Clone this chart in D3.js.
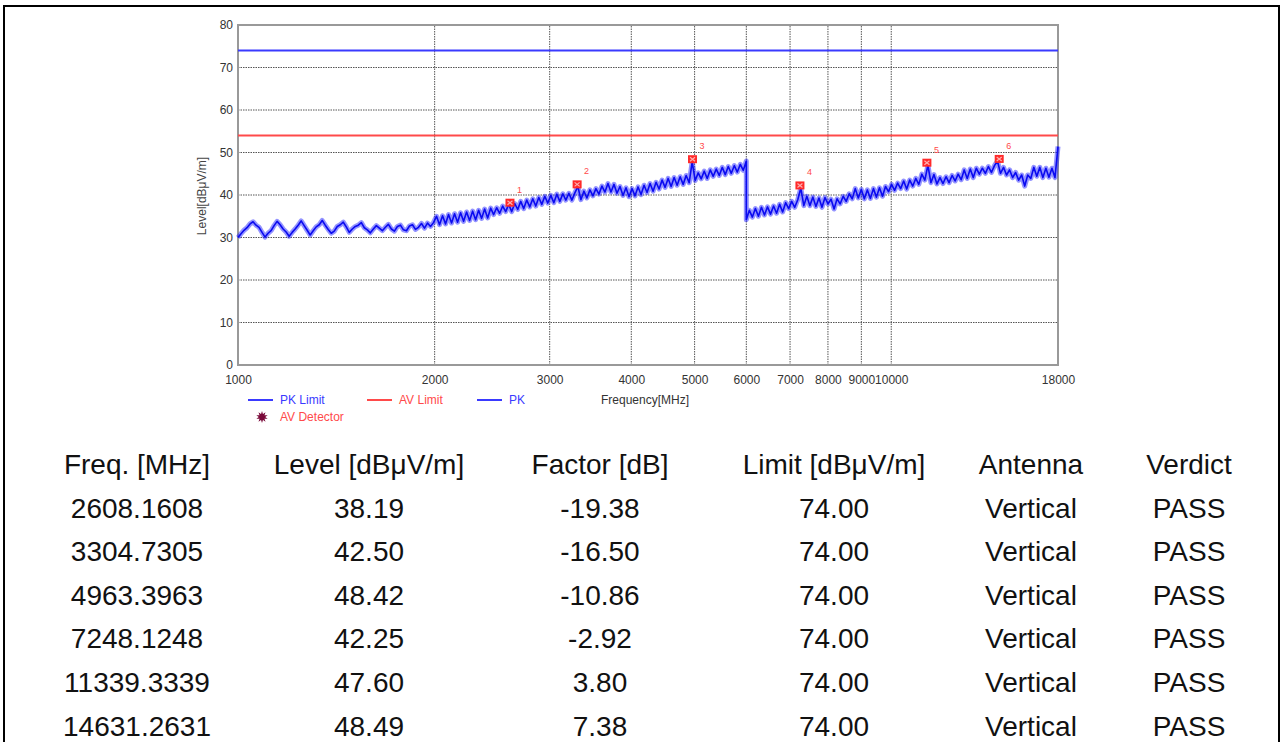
<!DOCTYPE html>
<html><head><meta charset="utf-8">
<script src="https://cdn.jsdelivr.net/npm/d3@7"></script>
<style>
body{margin:0;background:#fff;}
svg{display:block;font-family:"Liberation Sans",Arial,sans-serif;}
</style>
</head><body>
<svg id="c" width="1282" height="742"></svg>
<script>
// ---------------- data ----------------
const yTicks = [0, 10, 20, 30, 40, 50, 60, 70, 80];
const xTickLabels = [1000, 2000, 3000, 4000, 5000, 6000, 7000, 8000, 9000, 10000, 18000];
const xGridLines = [2000, 3000, 4000, 5000, 6000, 7000, 8000, 9000, 10000];
const pkLimit = 74;
const avLimit = 54;
// PK trace, sweep 1 (1000 - 6000 MHz, log-spaced sweep points)
const sweepA = [1000, 6000];
const levelsA = [
 30.0,30.9,31.7,32.3,33.2,33.7,32.9,32.4,31.2,30.1,
 31.0,31.6,32.8,33.8,33.0,32.0,31.3,30.3,31.2,32.0,
 32.9,33.9,32.8,31.7,30.6,31.6,32.5,33.0,34.0,32.9,
 31.9,31.0,31.5,32.6,33.0,33.6,32.5,31.2,32.0,32.6,
 32.9,33.5,32.3,31.8,31.1,32.0,32.8,32.2,31.6,32.4,
 33.1,32.0,31.5,32.6,32.9,31.8,31.6,32.7,33.0,31.9,
 32.4,33.3,32.2,33.4,32.6,33.5,35.0,33.0,35.1,33.2,
 35.4,33.4,35.6,33.6,35.8,33.8,36.0,34.0,36.2,34.2,
 36.4,34.5,36.7,34.6,36.9,35.4,37.0,35.7,37.4,36.1,
 37.8,36.1,38.0,36.6,38.5,36.8,38.8,37.2,39.1,37.4,
 39.4,37.8,39.7,38.1,39.9,38.2,40.2,38.5,40.3,38.8,
 40.4,38.8,40.5,42.0,38.9,40.9,39.3,41.2,39.8,41.5,
 40.2,42.1,40.7,42.7,40.7,42.5,40.4,42.0,39.9,41.7,
 39.6,41.5,39.8,41.9,40.1,42.3,40.6,42.7,40.9,43.0,
 41.4,43.5,41.8,43.9,42.0,44.1,42.3,44.3,42.5,44.6,
 42.9,47.8,43.4,45.2,43.8,45.6,43.9,45.9,44.4,46.1,
 44.6,46.5,44.8,46.7,45.1,46.9,45.4,47.2,45.8,48.0
];
// PK trace, sweep 2 (6000 - 18000 MHz)
const sweepB = [6000, 18000];
const levelsB = [
 34.2,36.4,34.8,36.8,35.0,37.1,35.3,37.2,35.5,37.4,
 35.7,37.8,36.0,38.2,36.8,38.5,37.1,38.9,41.6,37.5,
 39.7,37.5,39.5,37.3,39.3,37.1,39.4,37.9,39.0,36.7,
 39.1,37.9,39.7,38.5,40.3,39.1,41.5,39.3,41.3,39.1,
 41.2,39.2,41.5,39.5,41.7,39.7,42.0,40.8,42.5,41.1,
 42.8,41.5,43.3,41.4,43.5,42.1,43.9,42.5,44.9,43.5,
 47.0,42.9,44.8,42.6,44.1,42.7,44.3,42.9,44.6,43.3,
 44.9,43.6,45.9,43.9,46.1,44.1,46.3,44.9,46.3,45.1,
 46.7,45.3,46.9,48.0,45.1,46.5,44.7,45.9,44.1,45.3,
 43.5,44.7,42.1,44.7,43.9,46.5,44.4,46.5,44.1,46.3,
 44.2,46.3,44.1,51.4
];
// final measurement markers / table
const markerFreq   = [2608.1608, 3304.7305, 4963.3963, 7248.1248, 11339.3339, 14631.2631];
const markerLevel  = [38.19, 42.50, 48.42, 42.25, 47.60, 48.49];
const markerFactor = [-19.38, -16.50, -10.86, -2.92, 3.80, 7.38];
const markerLimit  = [74.00, 74.00, 74.00, 74.00, 74.00, 74.00];
const markerAntenna = ["Vertical","Vertical","Vertical","Vertical","Vertical","Vertical"];
const markerVerdict = ["PASS","PASS","PASS","PASS","PASS","PASS"];
const tableHeaders = ["Freq. [MHz]", "Level [dBμV/m]", "Factor [dB]", "Limit [dBμV/m]", "Antenna", "Verdict"];
const legendItems = ["PK Limit", "AV Limit", "PK"];

// ---------------- drawing ----------------
const svg = d3.select("#c");
// outer frame
svg.append("rect").attr("x", 4).attr("y", 6).attr("width", 1275).attr("height", 800)
  .attr("fill", "none").attr("stroke", "#000").attr("stroke-width", 2);

const x = d3.scaleLog().domain([1000, 18000]).range([238, 1058]);
const y = d3.scaleLinear().domain([0, 80]).range([365, 25]);

const g = svg.append("g");
// grid
g.selectAll(".hg").data(yTicks.filter(d => d > 0 && d < 80)).join("line")
  .attr("x1", x(1000)).attr("x2", x(18000)).attr("y1", d => y(d)).attr("y2", d => y(d))
  .attr("stroke", "#555").attr("stroke-width", 1).attr("stroke-dasharray", "1.5,1");
g.selectAll(".vg").data(xGridLines).join("line")
  .attr("x1", d => x(d)).attr("x2", d => x(d)).attr("y1", y(0)).attr("y2", y(80))
  .attr("stroke", "#555").attr("stroke-width", 1).attr("stroke-dasharray", "1.5,1");

// axes via d3
const yAxis = d3.axisLeft(y).tickValues(yTicks).tickSize(0).tickPadding(5);
const yg = g.append("g").attr("transform", `translate(${x(1000)},0)`).call(yAxis);
const xAxis = d3.axisBottom(x).tickValues(xTickLabels).tickFormat(d3.format("d")).tickSize(0).tickPadding(10);
const xg = g.append("g").attr("transform", `translate(0,${y(0)})`).call(xAxis);
[yg, xg].forEach(a => {
  a.select(".domain").remove();
  a.selectAll("text").attr("font-size", 12).attr("fill", "#333")
    .attr("font-family", "'Liberation Sans',Arial,sans-serif");
});

// plot frame
g.append("rect").attr("x", x(1000)).attr("y", y(80))
  .attr("width", x(18000) - x(1000)).attr("height", y(0) - y(80))
  .attr("fill", "none").attr("stroke", "#999").attr("stroke-width", 2);

// limits
g.append("line").attr("x1", x(1000)).attr("x2", x(18000)).attr("y1", y(pkLimit)).attr("y2", y(pkLimit))
  .attr("stroke", "#3a3aff").attr("stroke-width", 2);
g.append("line").attr("x1", x(1000)).attr("x2", x(18000)).attr("y1", y(avLimit)).attr("y2", y(avLimit))
  .attr("stroke", "#ff4a4a").attr("stroke-width", 2);

// trace
function sweepPoints(range, vals) {
  const n = vals.length;
  const idx = d3.scaleLinear().domain([0, n - 1]).range([Math.log10(range[0]), Math.log10(range[1])]);
  return vals.map((v, i) => [Math.pow(10, idx(i)), v]);
}
const trace = sweepPoints(sweepA, levelsA).concat(sweepPoints(sweepB, levelsB));
const line = d3.line().x(d => x(d[0])).y(d => y(d[1]));
g.append("path").datum(trace).attr("d", line).attr("fill", "none")
  .attr("stroke", "#2a2aff").attr("stroke-width", 5).attr("stroke-opacity", 0.5).attr("stroke-linejoin", "round");
g.append("path").datum(trace).attr("d", line).attr("fill", "none")
  .attr("stroke", "#0a0af0").attr("stroke-width", 1.6).attr("stroke-linejoin", "round");

// markers
const mk = g.selectAll(".mk").data(markerFreq.map((f, i) => ({f, l: markerLevel[i], n: i + 1}))).join("g")
  .attr("transform", d => `translate(${x(d.f)},${y(d.l)})`);
mk.append("rect").attr("x", -4.5).attr("y", -4).attr("width", 9).attr("height", 8).attr("fill", "#ff2a2a");
mk.append("path").attr("d", "M-2.5,-2L2.5,2M-2.5,2L2.5,-2").attr("stroke", "#ffb0b0").attr("stroke-width", 1.2);
mk.append("text").attr("x", 7).attr("y", -10).attr("font-size", 9).attr("fill", "#ff4a4a").text(d => d.n);

// axis titles
svg.append("text").attr("transform", `translate(206,${(y(0) + y(80)) / 2 + 1}) rotate(-90)`)
  .attr("text-anchor", "middle").attr("font-size", 12).attr("fill", "#444").text("Level[dBμV/m]");
svg.append("text").attr("x", 601).attr("y", 404).attr("font-size", 12).attr("fill", "#333").text("Frequency[MHz]");

// legend
const legCols = ["#3a3aff", "#ff4a4a", "#3a3aff"];
const legX = [248, 367, 477];
legendItems.forEach((t, i) => {
  svg.append("line").attr("x1", legX[i]).attr("x2", legX[i] + 25).attr("y1", 400).attr("y2", 400)
    .attr("stroke", legCols[i]).attr("stroke-width", 2);
  svg.append("text").attr("x", legX[i] + 32).attr("y", 404).attr("font-size", 12).attr("fill", legCols[i]).text(t);
});
svg.append("path").attr("transform", "translate(262,417)")
  .attr("d", d3.symbol(d3.symbolStar, 40)()).attr("fill", "#7a0a3a");
svg.append("path").attr("transform", "translate(262,417) rotate(36)")
  .attr("d", d3.symbol(d3.symbolStar, 40)()).attr("fill", "#7a0a3a");
svg.append("text").attr("x", 280).attr("y", 421).attr("font-size", 12).attr("fill", "#ff4a4a").text("AV Detector");

// table
const colX = [137, 369, 600, 834, 1031, 1189];
const tbl = svg.append("g").attr("font-size", 28).attr("fill", "#111").attr("text-anchor", "middle");
tableHeaders.forEach((h, i) => tbl.append("text").attr("x", colX[i]).attr("y", 474).text(h));
markerFreq.forEach((f, r) => {
  const row = [f.toFixed(4), markerLevel[r].toFixed(2), markerFactor[r].toFixed(2),
               markerLimit[r].toFixed(2), markerAntenna[r], markerVerdict[r]];
  row.forEach((v, i) => tbl.append("text").attr("x", colX[i]).attr("y", 517.5 + r * 43.6).text(v));
});
</script>
</body></html>
